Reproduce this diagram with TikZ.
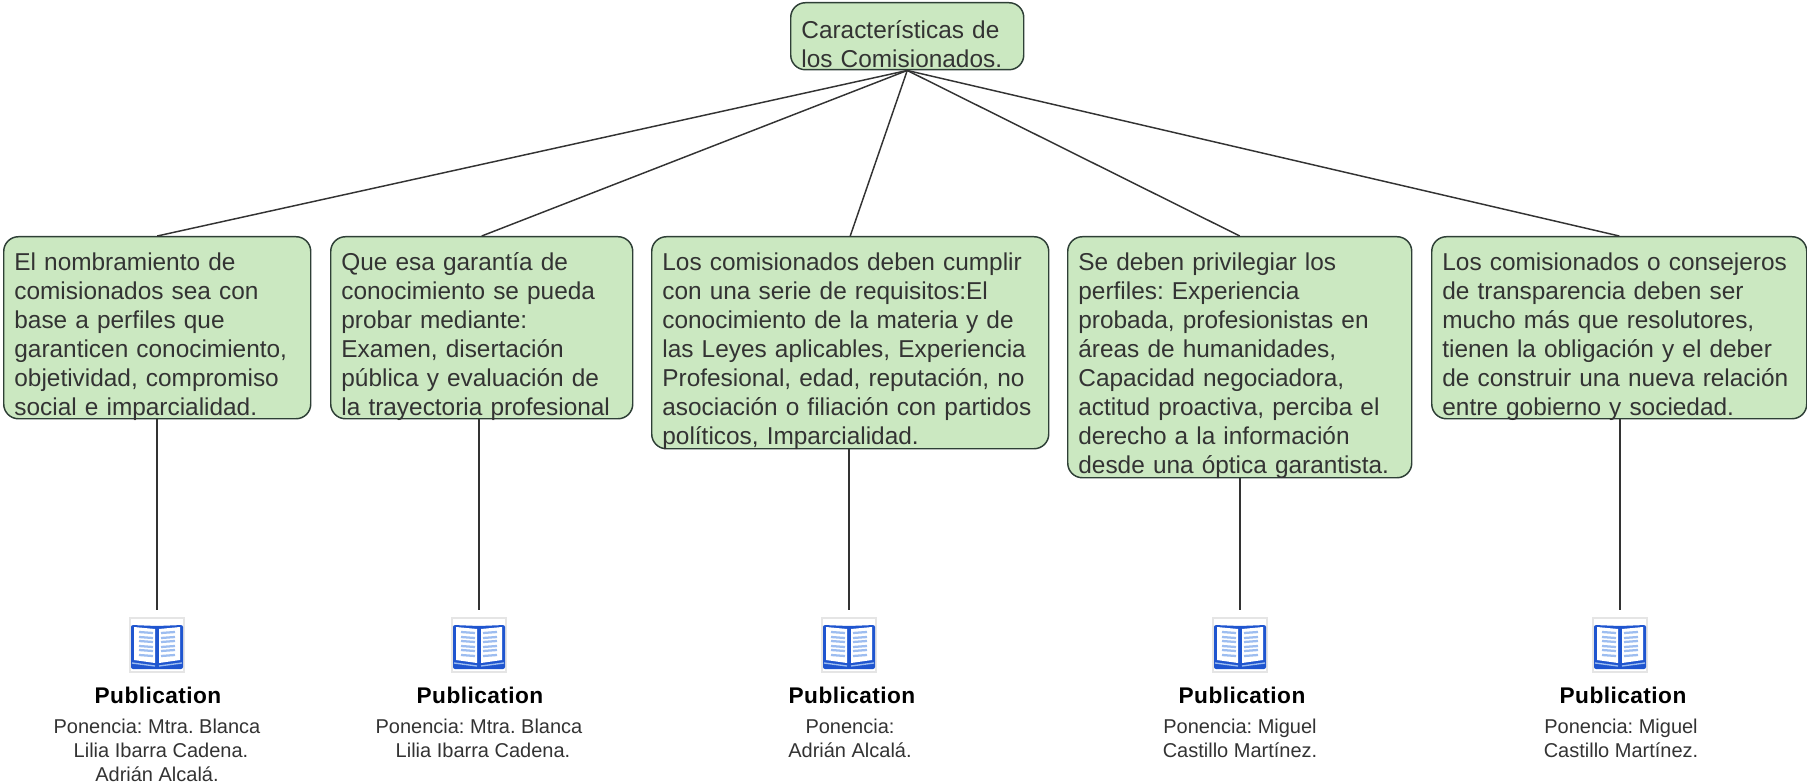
\documentclass[tikz,border=0pt]{standalone}
\usepackage{fontspec}
\usepackage{xcolor}
\setmainfont{Liberation Sans}
\usetikzlibrary{positioning}
\AtBeginDocument{\frenchspacing}

\definecolor{boxgreen}{HTML}{CBE8C1}
\definecolor{boxline}{HTML}{2E3F36}
\definecolor{bookblue}{HTML}{1F55CF}
\definecolor{pagelines}{HTML}{9DBDF0}

\tikzset{
  textbox/.style 2 args={draw=boxline, fill=boxgreen, line width=1.1pt, rounded corners=11pt,
    anchor=north west, inner xsep=8pt, inner ysep=0pt, align=left, text=black!80,
    font=\fontsize{18.3}{21.75}\selectfont,
    text width=#1*.75pt-16pt, text height=25.5pt, text depth=#2*.75pt-25.5pt},
  bookbox/.style={draw=black!10, minimum size=40.5pt, inner sep=0pt, outer sep=6pt},
  pubtext/.style={anchor=north, align=center, inner sep=0pt, text=black!80,
    font=\fontsize{15}{18}\selectfont},
  pubtitle/.style={anchor=base, inner sep=0pt,
    font=\fontsize{17}{18}\selectfont\bfseries\addfontfeature{LetterSpace=2}},
  bookpic/.pic={
    \fill[bookblue, rounded corners=1.5pt]
      (-26,-20) -- (0,-19) -- (26,-20) -- (26,24) -- (-26,24) -- cycle;
    \fill[white]
      (-23,-18) -- (-2,-16) -- (-2,18) -- (-23,15) -- cycle
      (2,-16) -- (23,-18) -- (23,15) -- (2,18) -- cycle;
    \draw[pagelines, line width=1.7pt]
      (-18,-13) -- (-4,-12) (-18,-8) -- (-4,-7) (-18,-4) -- (-4,-3)
      (-18,1) -- (-4,2) (-18,5) -- (-4,6) (-18,10) -- (-4,11)
      (4,-12) -- (18,-13) (4,-7) -- (18,-8) (4,-3) -- (18,-4)
      (4,2) -- (18,1) (4,6) -- (18,5) (4,11) -- (18,10);
    \draw[pagelines, line width=1pt] (-25,18) -- (-2,21) (2,21) -- (25,18);
  }
}

\begin{document}
\begin{tikzpicture}[x=.75pt,y=-.75pt,line width=1.1pt,draw=black!80]
\useasboundingbox (0,0) rectangle (1807,784);

\node[textbox={233}{67}, text height=27pt, text depth=23.25pt] (T_0) at (790,2)
  {Características de\\los Comisionados.};

\node[textbox={307}{182}] (T_1) at (3,236)
  {El nombramiento de\\comisionados sea con\\base a perfiles que\\garanticen conocimiento,\\objetividad, compromiso\\social e imparcialidad.};
\node[textbox={302}{182}] (T_2) at (330,236)
  {Que esa garantía de\\conocimiento se pueda\\probar mediante:\\Examen, disertación\\pública y evaluación de\\la trayectoria profesional};
\node[textbox={397}{212}] (T_3) at (651,236)
  {Los comisionados deben cumplir\\con una serie de requisitos:El\\conocimiento de la materia y de\\las Leyes aplicables, Experiencia\\Profesional, edad, reputación, no\\asociación o filiación con partidos\\políticos, Imparcialidad.};
\node[textbox={344}{241}] (T_4) at (1067,236)
  {Se deben privilegiar los\\perfiles: Experiencia\\probada, profesionistas en\\áreas de humanidades,\\Capacidad negociadora,\\actitud proactiva, perciba el\\derecho a la información\\desde una óptica garantista.};
\node[textbox={375}{182}] (T_5) at (1431,236)
  {Los comisionados o consejeros\\de transparencia deben ser\\mucho más que resolutores,\\tienen la obligación y el deber\\de construir una nueva relación\\entre gobierno y sociedad.};

\node[bookbox] (B_1) at (157,645) {};
\node[bookbox] (B_2) at (479,645) {};
\node[bookbox] (B_3) at (849,645) {};
\node[bookbox] (B_4) at (1240,645) {};
\node[bookbox] (B_5) at (1620,645) {};

\pic at (B_1) {bookpic};
\pic at (B_2) {bookpic};
\pic at (B_3) {bookpic};
\pic at (B_4) {bookpic};
\pic at (B_5) {bookpic};

\node[pubtitle] (L_1) at (158,703) {Publication};
\node[pubtitle] (L_2) at (480,703) {Publication};
\node[pubtitle] (L_3) at (852,703) {Publication};
\node[pubtitle] (L_4) at (1242,703) {Publication};
\node[pubtitle] (L_5) at (1623,703) {Publication};

\node[pubtext] (P_1) at (157,718) {Ponencia: Mtra. Blanca\\\hspace*{6pt}Lilia Ibarra Cadena.\\Adrián Alcalá.};
\node[pubtext] (P_2) at (479,718) {Ponencia: Mtra. Blanca\\\hspace*{6pt}Lilia Ibarra Cadena.};
\node[pubtext] (P_3) at (850,718) {Ponencia:\\Adrián Alcalá.};
\node[pubtext] (P_4) at (1240,718) {Ponencia: Miguel\\Castillo Martínez.};
\node[pubtext] (P_5) at (1621,718) {Ponencia: Miguel\\Castillo Martínez.};

\path[draw]
  (T_0.south) edge (T_1.north)
  (T_0.south) edge (T_2.north)
  (T_0.south) edge (T_3.north)
  (T_0.south) edge (T_4.north)
  (T_0.south) edge (T_5.north)

  (B_1 |- T_1.south) edge (B_1)
  (B_2 |- T_2.south) edge (B_2)
  (B_3 |- T_3.south) edge (B_3)
  (B_4 |- T_4.south) edge (B_4)
  (B_5 |- T_5.south) edge (B_5)
;
\end{tikzpicture}
\end{document}
